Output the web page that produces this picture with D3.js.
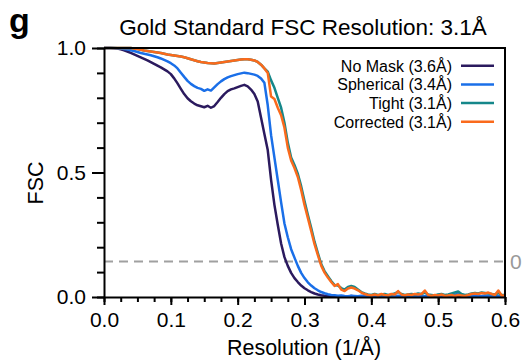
<!DOCTYPE html>
<html>
<head>
<meta charset="utf-8">
<script src="https://cdn.jsdelivr.net/npm/d3@7"></script>
<style>
  body { margin: 0; background: #fff; }
  svg { display: block; font-family: "Liberation Sans", Arial, sans-serif; }
</style>
</head>
<body>
<script>
// resolution (1/Å), shared by all curves
const resolution = [
  0.000, 0.005, 0.010, 0.015, 0.020, 0.025, 0.030, 0.035, 0.040, 0.045,
  0.050, 0.055, 0.060, 0.065, 0.070, 0.075, 0.080, 0.085, 0.090, 0.095,
  0.100, 0.105, 0.110, 0.115, 0.120, 0.125, 0.130, 0.135, 0.140, 0.145,
  0.150, 0.155, 0.160, 0.165, 0.170, 0.175, 0.180, 0.185, 0.190, 0.195,
  0.200, 0.205, 0.210, 0.215, 0.220, 0.225, 0.230, 0.235, 0.240, 0.245,
  0.250, 0.255, 0.260, 0.265, 0.270, 0.275, 0.280, 0.285, 0.290, 0.295,
  0.300, 0.305, 0.310, 0.315, 0.320, 0.325, 0.330, 0.335, 0.340, 0.345,
  0.350, 0.355, 0.360, 0.365, 0.370, 0.375, 0.380, 0.385, 0.390, 0.395,
  0.400, 0.405, 0.410, 0.415, 0.420, 0.425, 0.430, 0.435, 0.440, 0.445,
  0.450, 0.455, 0.460, 0.465, 0.470, 0.475, 0.480, 0.485, 0.490, 0.495,
  0.500, 0.505, 0.510, 0.515, 0.520, 0.525, 0.530, 0.535, 0.540, 0.545,
  0.550, 0.555, 0.560, 0.565, 0.570, 0.575, 0.580, 0.585, 0.590, 0.595,
  0.600
];

const noMask = [
  1.000, 1.000, 1.000, 0.999, 0.998, 0.995, 0.991, 0.986, 0.980, 0.974,
  0.968, 0.962, 0.956, 0.950, 0.943, 0.936, 0.929, 0.922, 0.914, 0.906,
  0.895, 0.878, 0.858, 0.836, 0.815, 0.798, 0.786, 0.777, 0.770, 0.766,
  0.762, 0.768, 0.760, 0.767, 0.783, 0.800, 0.815, 0.827, 0.834, 0.838,
  0.843, 0.848, 0.852, 0.846, 0.833, 0.815, 0.785, 0.720, 0.655, 0.590,
  0.470, 0.370, 0.290, 0.215, 0.160, 0.125, 0.097, 0.076, 0.060, 0.046,
  0.035, 0.027, 0.020, 0.014, 0.010, 0.007, 0.005, 0.004, 0.003, 0.004,
  0.002, 0.003, 0.001, 0.002, 0.004, 0.002, 0.001, 0.003, 0.002, 0.001,
  0.002, 0.003, 0.001, 0.002, 0.001, 0.003, 0.002, 0.001, 0.002, 0.004,
  0.002, 0.001, 0.002, 0.003, 0.001, 0.002, 0.001, 0.002, 0.003, 0.001,
  0.002, 0.001, 0.003, 0.002, 0.001, 0.002, 0.004, 0.002, 0.001, 0.002,
  0.001, 0.003, 0.002, 0.001, 0.002, 0.003, 0.001, 0.002, 0.001, 0.002,
  0.001
];

const spherical = [
  1.000, 1.000, 1.000, 1.000, 0.999, 0.998, 0.996, 0.994, 0.991, 0.988,
  0.984, 0.980, 0.977, 0.974, 0.971, 0.967, 0.963, 0.958, 0.952, 0.946,
  0.939, 0.930, 0.918, 0.901, 0.884, 0.868, 0.856, 0.847, 0.840, 0.836,
  0.828, 0.834, 0.829, 0.842, 0.855, 0.866, 0.875, 0.882, 0.887, 0.891,
  0.895, 0.898, 0.901, 0.899, 0.896, 0.893, 0.888, 0.878, 0.860, 0.770,
  0.650, 0.560, 0.470, 0.380, 0.295, 0.240, 0.192, 0.158, 0.125, 0.097,
  0.076, 0.059, 0.046, 0.035, 0.027, 0.020, 0.015, 0.011, 0.008, 0.007,
  0.005, 0.006, 0.004, 0.003, 0.005, 0.004, 0.003, 0.005, 0.004, 0.002,
  0.004, 0.003, 0.005, 0.004, 0.003, 0.002, 0.004, 0.003, 0.005, 0.003,
  0.004, 0.002, 0.003, 0.005, 0.004, 0.003, 0.004, 0.006, 0.003, 0.004,
  0.003, 0.004, 0.005, 0.003, 0.004, 0.008, 0.014, 0.006, 0.004, 0.003,
  0.004, 0.005, 0.003, 0.004, 0.006, 0.004, 0.005, 0.003, 0.004, 0.005,
  0.004
];

const tight = [
  1.000, 1.000, 1.000, 1.000, 1.000, 1.000, 1.000, 1.000, 1.000, 0.998,
  0.996, 0.993, 0.990, 0.988, 0.986, 0.984, 0.982, 0.980, 0.977, 0.974,
  0.972, 0.970, 0.968, 0.966, 0.963, 0.959, 0.955, 0.951, 0.947, 0.944,
  0.942, 0.940, 0.939, 0.938, 0.940, 0.942, 0.944, 0.946, 0.948, 0.950,
  0.952, 0.954, 0.955, 0.955, 0.953, 0.950, 0.944, 0.933, 0.918, 0.905,
  0.870, 0.840, 0.800, 0.760, 0.700, 0.620, 0.560, 0.530, 0.495, 0.445,
  0.385, 0.330, 0.278, 0.222, 0.176, 0.132, 0.104, 0.084, 0.064, 0.048,
  0.046, 0.036, 0.030, 0.040, 0.044, 0.040, 0.030, 0.020, 0.014, 0.010,
  0.008, 0.012, 0.008, 0.010, 0.012, 0.008, 0.010, 0.014, 0.020, 0.012,
  0.008, 0.010, 0.012, 0.010, 0.014, 0.012, 0.018, 0.010, 0.008, 0.006,
  0.010, 0.012, 0.008, 0.010, 0.014, 0.018, 0.022, 0.012, 0.008, 0.010,
  0.014, 0.016, 0.014, 0.018, 0.016, 0.014, 0.012, 0.010, 0.016, 0.008,
  0.008
];

const corrected = [
  1.000, 1.000, 1.000, 1.000, 1.000, 1.000, 1.000, 1.000, 1.000, 0.998,
  0.996, 0.993, 0.990, 0.988, 0.986, 0.984, 0.982, 0.980, 0.977, 0.974,
  0.972, 0.970, 0.968, 0.966, 0.963, 0.959, 0.955, 0.951, 0.947, 0.944,
  0.942, 0.940, 0.939, 0.938, 0.940, 0.942, 0.944, 0.946, 0.948, 0.950,
  0.952, 0.954, 0.955, 0.955, 0.953, 0.950, 0.944, 0.933, 0.918, 0.900,
  0.805, 0.795, 0.760, 0.730, 0.680, 0.600, 0.548, 0.518, 0.482, 0.430,
  0.370, 0.318, 0.265, 0.212, 0.168, 0.126, 0.098, 0.078, 0.060, 0.044,
  0.052, 0.030, 0.024, 0.034, 0.038, 0.034, 0.027, 0.018, 0.012, 0.008,
  0.006, 0.010, 0.006, 0.012, 0.008, 0.006, 0.012, 0.010, 0.024, 0.010,
  0.006, 0.010, 0.008, 0.012, 0.010, 0.012, 0.026, 0.008, 0.004, 0.008,
  0.006, 0.010, 0.004, 0.006, 0.008, 0.004, 0.008, 0.006, 0.004, 0.008,
  0.012, 0.014, 0.012, 0.016, 0.014, 0.018, 0.012, 0.008, 0.026, 0.006,
  0.006
];

const seriesNames = ["No Mask (3.6Å)", "Spherical (3.4Å)", "Tight (3.1Å)", "Corrected (3.1Å)"];
const seriesColors = ["#2b1a5e", "#1a6fe8", "#15878a", "#fa6a1c"];
const threshold = 0.143;

const xMajor = [0, 0.1, 0.2, 0.3, 0.4, 0.5, 0.6];
const yMajor = [0, 0.5, 1];

function main() {
  const width = 525, height = 362;
  const font = "'Liberation Sans', Arial, sans-serif";

  const svg = d3.select("body").append("svg")
    .attr("width", width)
    .attr("height", height);

  const x = d3.scaleLinear().domain([0, 0.6]).range([104, 505]);
  const y = d3.scaleLinear().domain([0, 1]).range([297, 48]);

  const series = [noMask, spherical, tight, corrected];

  // threshold line
  svg.append("line")
    .attr("x1", x(0)).attr("x2", x(0.6))
    .attr("y1", y(threshold)).attr("y2", y(threshold))
    .attr("stroke", "#a0a0a0")
    .attr("stroke-width", 2)
    .attr("stroke-dasharray", "9,6");

  svg.append("text")
    .attr("x", 510).attr("y", y(threshold) + 8)
    .attr("font-size", 21)
    .attr("fill", "#999")
    .text("0");

  const line = d3.line()
    .x((d, i) => x(resolution[i]))
    .y(d => y(d));

  svg.append("g")
    .selectAll("path")
    .data(series)
    .join("path")
      .attr("d", line)
      .attr("fill", "none")
      .attr("stroke", (d, i) => seriesColors[i])
      .attr("stroke-width", 2.5)
      .attr("stroke-linejoin", "round");

  // frame (top + right)
  svg.append("path")
    .attr("d", `M${x(0)},${y(1)}H${x(0.6)}V${y(0)}`)
    .attr("fill", "none")
    .attr("stroke", "#000")
    .attr("stroke-width", 2);

  // x axis, minor then major
  svg.append("g")
    .attr("transform", `translate(0,${y(0)})`)
    .call(d3.axisBottom(x).tickValues(d3.range(0, 0.6001, 0.025)).tickSize(5).tickSizeOuter(0).tickFormat(""))
    .call(g => g.selectAll("line").attr("stroke-width", 2))
    .call(g => g.select(".domain").attr("stroke-width", 2));

  svg.append("g")
    .attr("transform", `translate(0,${y(0)})`)
    .call(d3.axisBottom(x).tickValues(xMajor).tickSize(8).tickSizeOuter(0).tickFormat(d3.format(".1f")).tickPadding(7))
    .call(g => g.select(".domain").remove())
    .call(g => g.selectAll("line").attr("stroke-width", 2))
    .call(g => g.selectAll("text").attr("font-size", 21).attr("font-family", font).attr("fill", "#000"));

  // y axis
  svg.append("g")
    .attr("transform", `translate(${x(0)},0)`)
    .call(d3.axisLeft(y).tickValues(d3.range(0, 1.0001, 0.1)).tickSize(7).tickSizeOuter(0).tickFormat(""))
    .call(g => g.selectAll("line").attr("stroke-width", 2))
    .call(g => g.select(".domain").attr("stroke-width", 2));

  svg.append("g")
    .attr("transform", `translate(${x(0)},0)`)
    .call(d3.axisLeft(y).tickValues(yMajor).tickSize(12).tickSizeOuter(0).tickFormat(d3.format(".1f")).tickPadding(6))
    .call(g => g.select(".domain").remove())
    .call(g => g.selectAll("line").attr("stroke-width", 2))
    .call(g => g.selectAll("text").attr("font-size", 21).attr("font-family", font).attr("fill", "#000"));

  // axis labels
  svg.append("text")
    .attr("x", 304).attr("y", 355)
    .attr("text-anchor", "middle")
    .attr("font-size", 21.5)
    .text("Resolution (1/Å)");

  svg.append("text")
    .attr("transform", "translate(43,183) rotate(-90)")
    .attr("text-anchor", "middle")
    .attr("font-size", 21.5)
    .text("FSC");

  // title and panel letter
  svg.append("text")
    .attr("x", 303).attr("y", 35)
    .attr("text-anchor", "middle")
    .attr("font-size", 22.5)
    .text("Gold Standard FSC Resolution: 3.1Å");

  svg.append("text")
    .attr("x", 9).attr("y", 32)
    .attr("font-size", 34)
    .attr("font-weight", "bold")
    .text("g");

  // legend
  const legend = svg.append("g")
    .selectAll("g")
    .data(seriesNames)
    .join("g")
      .attr("transform", (d, i) => `translate(0,${65.7 + i * 18.7})`);

  legend.append("text")
    .attr("x", 452).attr("y", 5.8)
    .attr("text-anchor", "end")
    .attr("font-size", 16)
    .text(d => d);

  legend.append("line")
    .attr("x1", 461).attr("x2", 494)
    .attr("stroke", (d, i) => seriesColors[i])
    .attr("stroke-width", 2.5);
}

window.addEventListener("load", main);
</script>
</body>
</html>
